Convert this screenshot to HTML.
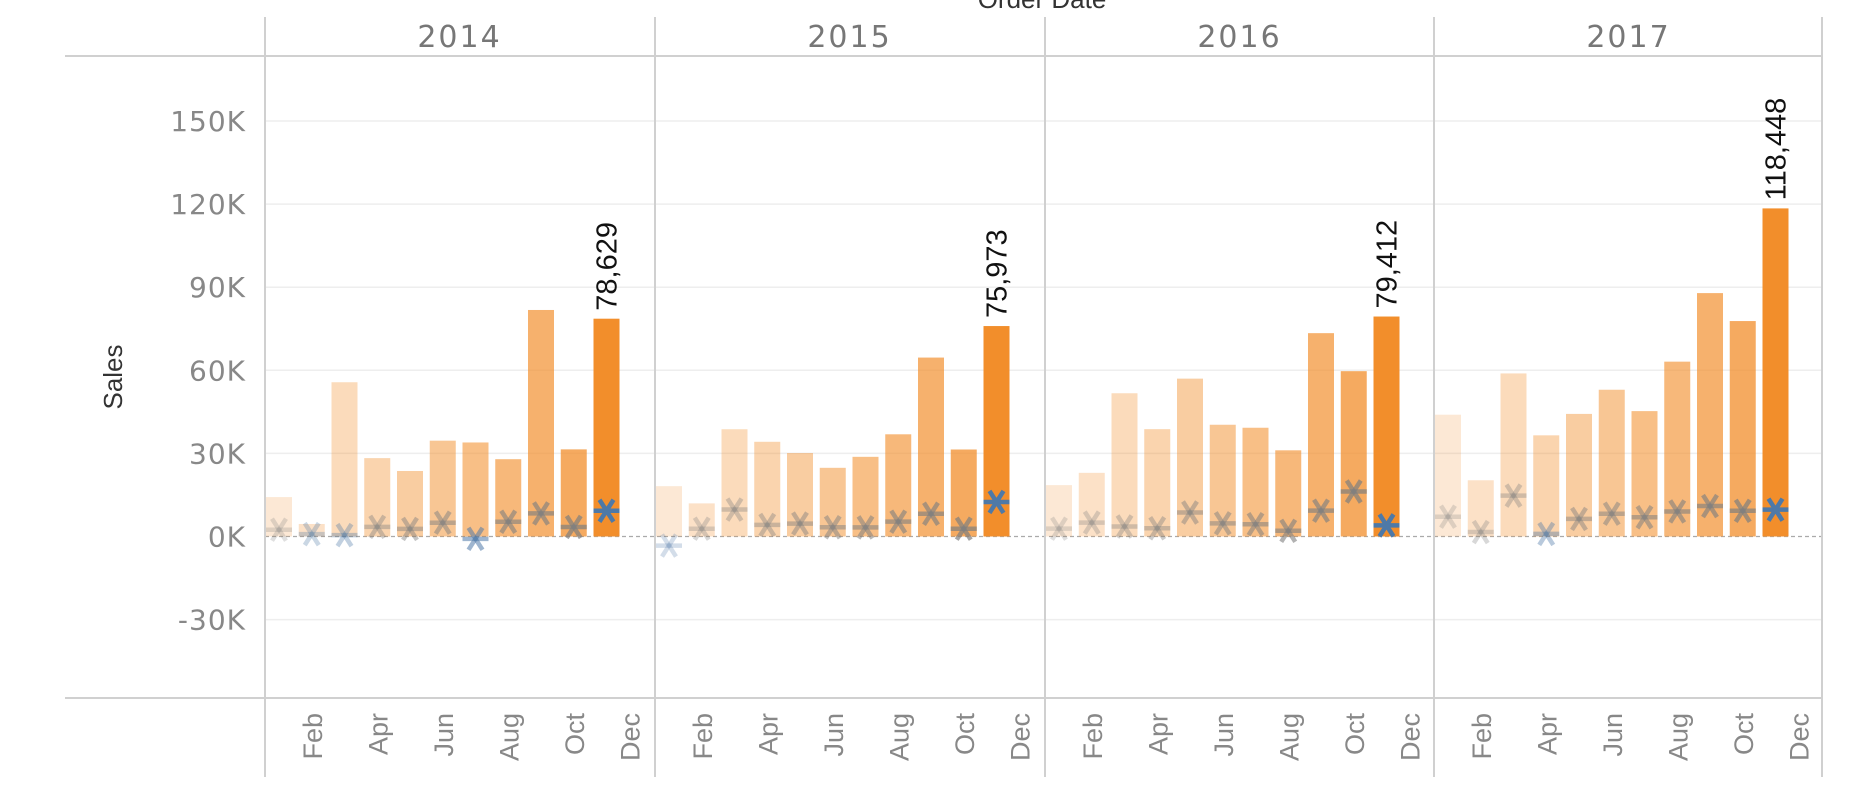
<!DOCTYPE html>
<html><head><meta charset="utf-8"><style>
html,body{margin:0;padding:0;background:#fff;}
svg{display:block;font-family:"Liberation Sans",sans-serif;}
</style></head><body>
<svg id="chart" width="1861" height="806" viewBox="0 0 1861 806" xmlns="http://www.w3.org/2000/svg">
<text x="1042" y="8" text-anchor="middle" font-size="26" fill="#333">Order Date</text>
<g id="grid"></g>
<g id="frame"></g>
<g id="marks"></g>
<text transform="translate(122,377) rotate(-90)" text-anchor="middle" font-size="26" fill="#333">Sales</text>
</svg>
<script>
const years = ["2014","2015","2016","2017"];
const months = ["Jan","Feb","Mar","Apr","May","Jun","Jul","Aug","Sep","Oct","Nov"];
const axisMonths = ["Feb","Apr","Jun","Aug","Oct","Dec"];
const axisMonthIdx = [1,3,5,7,9,11];
const yTicks = [150000,120000,90000,60000,30000,0,-30000];
const yTickLabels = ["150K","120K","90K","60K","30K","0K","-30K"];
const sales2014 = [14237,4520,55691,28295,23648,34595,33946,27909,81777,31453,78629];
const sales2015 = [18174,11951,38726,34195,30132,24797,28765,36898,64596,31405,75973];
const sales2016 = [18542,22979,51716,38750,56988,40345,39262,31115,73410,59688,79412];
const sales2017 = [43971,20301,58872,36522,44261,52982,45264,63121,87867,77777,118448];
const profit2014 = [2450,862,499,3489,2739,4977,-841,5318,8328,3448,9292];
const profit2015 = [-3281,2814,9732,4187,4668,3335,3289,5355,8210,2817,12475];
const profit2016 = [2825,5004,3611,2978,8662,4750,4433,2063,9329,16243,4011];
const profit2017 = [7140,1614,14752,934,6342,8223,6952,9041,10992,9275,9690];
const salesByYear = [sales2014,sales2015,sales2016,sales2017];
const profitByYear = [profit2014,profit2015,profit2016,profit2017];
const labels = ["78,629","75,973","79,412","118,448"];

const NS="http://www.w3.org/2000/svg";
const panelX=[265,655,1045,1434], panelW=389;
const zeroY=536.5, pxPer=83.1/30000;
const y=v=>zeroY-v*pxPer;
const slot=32.75, bw=26;
const xc=(p,i)=>panelX[p]+14+slot*i;
function mk(tag,attrs,parent){const e=document.createElementNS(NS,tag);for(const k in attrs)e.setAttribute(k,attrs[k]);parent.appendChild(e);return e;}
const grid=document.getElementById('grid'),frame=document.getElementById('frame'),marks=document.getElementById('marks');
const WIDE='DejaVu Sans, Liberation Sans, sans-serif';

yTicks.forEach((t,k)=>{
  if(t!==0){const g=mk('line',{x1:265,x2:1822,y1:y(t),y2:y(t),stroke:'#eeeeee','stroke-width':1.5},grid);
  
  }
  const tl=mk('text',{x:246,y:y(t)+10,'text-anchor':'end','font-size':28,fill:'#888','font-family':WIDE,'letter-spacing':'1'},grid);
  tl.textContent=yTickLabels[k];
  
  
});
const zl=mk('line',{x1:265,x2:1822,y1:zeroY,y2:zeroY,stroke:'#aaa','stroke-width':1.2,'stroke-dasharray':'4,3'},grid);



[[65,56,1822,56],[65,698,1822,698]].forEach(a=>{const l=mk('line',{x1:a[0],y1:a[1],x2:a[2],y2:a[3],stroke:'#d0d0d0','stroke-width':2},frame);

});
[265,655,1045,1434,1822].forEach(x=>{const l=mk('line',{x1:x,y1:17,x2:x,y2:777,stroke:'#d0d0d0','stroke-width':2},frame);

});

years.forEach((yr,p)=>{
  const t=mk('text',{x:panelX[p]+panelW/2,y:47,'text-anchor':'middle','font-size':30,fill:'#777','letter-spacing':'2','font-family':WIDE},frame);
  t.textContent=yr;
  
  
  axisMonths.forEach((m,k)=>{
    let cx=xc(p,axisMonthIdx[k]); if(m==="Dec") cx-=10;
    const ml=mk('text',{transform:`translate(${cx+10},713) rotate(-90)`,'text-anchor':'end','font-size':27,fill:'#888'},frame);
    ml.textContent=m;
    
    
  });
  const s=salesByYear[p], pr=profitByYear[p];
  s.forEach((v,i)=>{
    const last=i===s.length-1;
    const op=last?1:0.2+0.55*(i/(s.length-2));
    const r=mk('rect',{x:xc(p,i)-bw/2,y:y(v),width:bw,height:zeroY-y(v),fill:'#f28e2b','fill-opacity':op},marks);
    
    
    const pv=pr[i], cy=y(pv), cx=xc(p,i);
    const col=(last||pv<1000)?'#4e79a7':'#7f7f7f';
    const sop=last?1:0.25+0.45*(i/(s.length-2));
    const g=mk('g',{stroke:col,'stroke-opacity':sop,'stroke-width':4.5,'stroke-linecap':'butt'},marks);
    
    
    mk('line',{x1:cx-13,y1:cy,x2:cx+13,y2:cy},g);
    mk('line',{x1:cx-7,y1:cy-11,x2:cx+7,y2:cy+11},g);
    mk('line',{x1:cx+7,y1:cy-11,x2:cx-7,y2:cy+11},g);
    if(last){
      const lb=mk('text',{transform:`translate(${cx+10},${y(v)-8}) rotate(-90)`,'font-size':29,fill:'#111'},marks);
      lb.textContent=labels[p];
      
      
    }
  });
});
</script>
</body></html>
